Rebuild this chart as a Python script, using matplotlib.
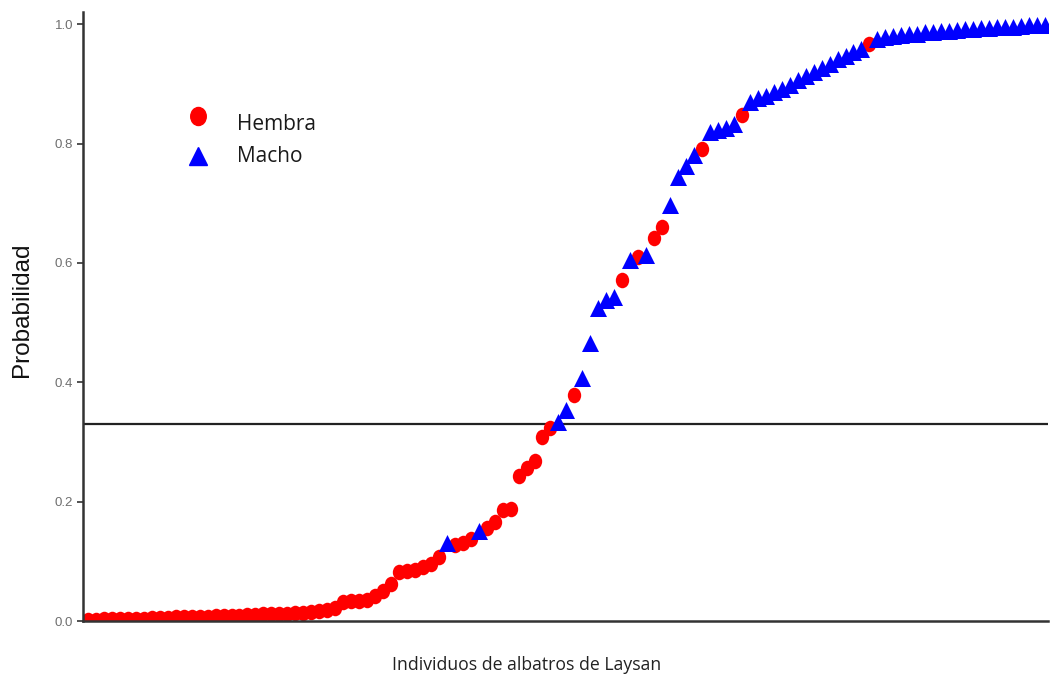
import matplotlib
matplotlib.use("Agg")
import matplotlib.pyplot as plt
from matplotlib.path import Path
from matplotlib.transforms import Affine2D

# Predicted probability of each Laysan albatross individual, sorted ascending
prob = [
    0.002, 0.002, 0.003, 0.003, 0.003, 0.004, 0.004, 0.004, 0.005, 0.005,
    0.005, 0.006, 0.006, 0.006, 0.007, 0.007, 0.008, 0.008, 0.009, 0.009,
    0.010, 0.010, 0.011, 0.011, 0.012, 0.012, 0.013, 0.014, 0.015, 0.016,
    0.018, 0.022, 0.032, 0.033, 0.034, 0.036, 0.042, 0.050, 0.062, 0.082,
    0.083, 0.085, 0.090, 0.096, 0.107, 0.131, 0.128, 0.131, 0.138, 0.150,
    0.155, 0.166, 0.186, 0.188, 0.243, 0.256, 0.268, 0.308, 0.323, 0.333,
    0.353, 0.379, 0.407, 0.466, 0.524, 0.538, 0.543, 0.571, 0.605, 0.610,
    0.613, 0.641, 0.660, 0.697, 0.744, 0.762, 0.780, 0.790, 0.820, 0.823,
    0.826, 0.832, 0.848, 0.870, 0.876, 0.880, 0.886, 0.892, 0.898, 0.906,
    0.913, 0.920, 0.927, 0.934, 0.941, 0.947, 0.953, 0.958, 0.966, 0.975,
    0.978, 0.980, 0.982, 0.983, 0.984, 0.986, 0.987, 0.988, 0.989, 0.990,
    0.991, 0.992, 0.993, 0.994, 0.995, 0.995, 0.996, 0.997, 0.998, 0.998,
    0.999,
]

# Sex of each individual: H = hembra, M = macho
sexo = (
    ["H"] * 45 + ["M"] + ["H"] * 3 + ["M"] + ["H"] * 9
    + ["M", "M", "H", "M", "M", "M", "M", "M", "H", "M", "H", "M", "H", "H",
       "M", "M", "M", "M", "H", "M", "M", "M", "M", "H"]
    + ["M"] * 15 + ["H"] + ["M"] * 22
)

umbral = 0.33
yticks = [0.0, 0.2, 0.4, 0.6, 0.8, 1.0]
ytick_labels = ["0.0", "0.2", "0.4", "0.6", "0.8", "1.0"]
etiquetas = {"H": "Hembra", "M": "Macho"}

rango = list(range(1, len(prob) + 1))

# slightly tall ellipse marker for females
elipse = Path.unit_circle().transformed(Affine2D().scale(0.86, 1.0))

fig = plt.figure(figsize=(10.5, 6.77), dpi=100)
ax = fig.add_axes([0.079, 0.0827, 0.919, 0.8993])

estilos = {
    "H": dict(marker=elipse, color="#ff0000", s=125),
    "M": dict(marker="^", color="#0000ff", s=150),
}
for clave in ["H", "M"]:
    xs = [r for r, s in zip(rango, sexo) if s == clave]
    ys = [p for p, s in zip(prob, sexo) if s == clave]
    ax.scatter(xs, ys, linewidths=0, zorder=3, **estilos[clave])

ax.axhline(umbral, color="#222222", lw=1.6, zorder=2)

ax.set_xlim(0.37, len(prob) + 0.38)
ax.set_ylim(0, 1.02)

for lado in ["top", "right"]:
    ax.spines[lado].set_visible(False)
for lado in ["left", "bottom"]:
    ax.spines[lado].set_color("#333333")
    ax.spines[lado].set_linewidth(1.8)
    ax.spines[lado].set_zorder(4)

ax.set_xticks([])
ax.set_yticks(yticks)
ax.set_yticklabels(ytick_labels, fontfamily="Liberation Sans", fontsize=9.5,
                   color="#6e6e6e")
ax.tick_params(axis="y", length=4, width=1.2, color="#333333", pad=3)

fig.text(0.021, 0.542, "Probabilidad", rotation=90, ha="center", va="center",
         fontfamily="Liberation Sans", fontsize=17.5, color="#111111")
fig.text(0.502, 0.018, "Individuos de albatros de Laysan", ha="center",
         va="center", fontfamily="Open Sans", fontsize=12.7, color="#222222")

# legend drawn by hand in figure coordinates
fig.add_artist(plt.Line2D([198 / 1050], [1 - 116 / 677], marker=elipse,
                          color="#ff0000", markersize=13, linestyle="none",
                          transform=fig.transFigure))
fig.add_artist(plt.Line2D([198 / 1050], [1 - 156 / 677], marker="^",
                          color="#0000ff", markersize=13, linestyle="none",
                          transform=fig.transFigure))
fig.text(237 / 1050, 1 - 124 / 677, etiquetas["H"], ha="left", va="center",
         fontfamily="Open Sans", fontsize=15, color="#1a1a1a")
fig.text(237 / 1050, 1 - 156 / 677, etiquetas["M"], ha="left", va="center",
         fontfamily="Open Sans", fontsize=15, color="#1a1a1a")

fig.savefig("out.png", dpi=100)
